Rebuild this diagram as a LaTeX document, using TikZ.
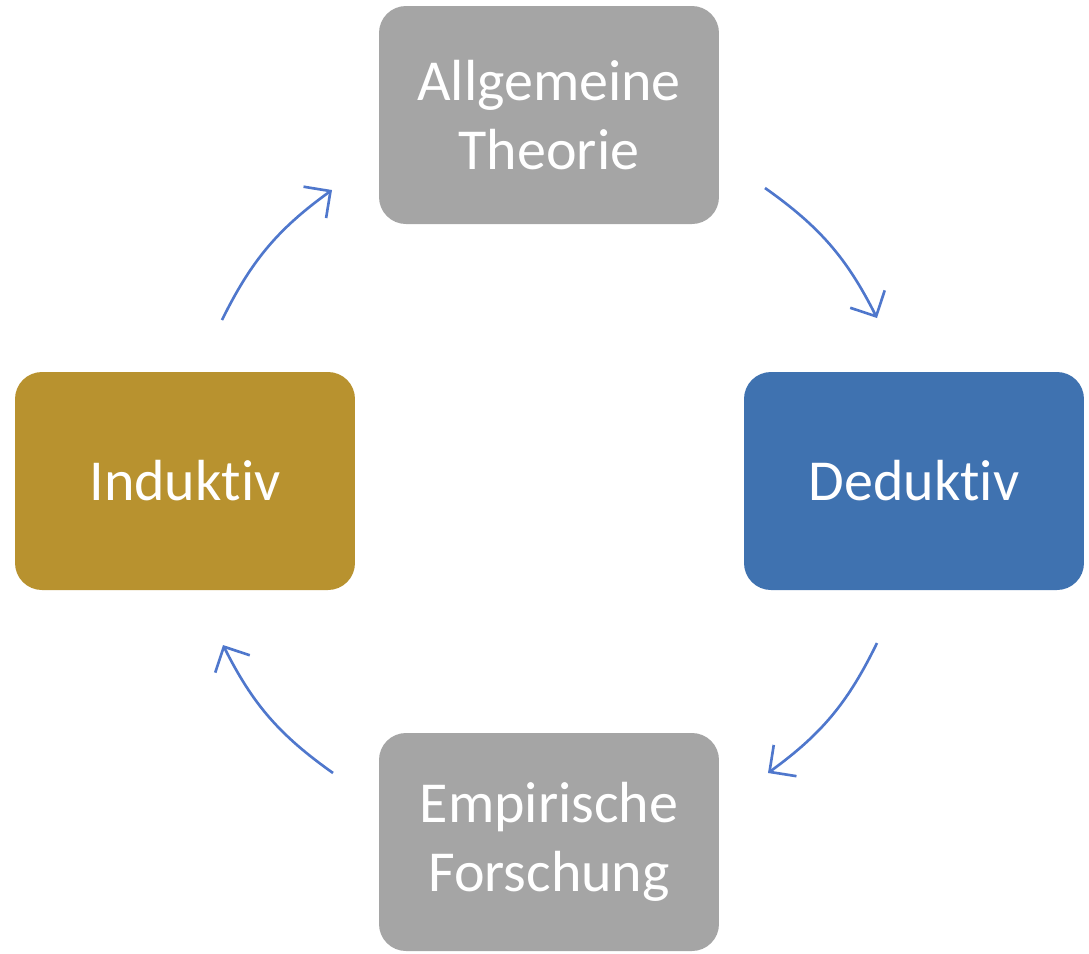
\documentclass[tikz,border=0pt]{standalone}
\usepackage{fontspec}
\setmainfont[Ligatures=NoCommon]{Carlito}
\usetikzlibrary{arrows.meta}
\definecolor{boxgray}{HTML}{A5A5A5}
\definecolor{boxgold}{HTML}{B8922F}
\definecolor{boxblue}{HTML}{3F72B0}
\definecolor{arrowblue}{HTML}{4F77CC}
\begin{document}
\begin{tikzpicture}
  [x=0.1mm,y=-0.1mm,box/.style={rectangle,rounded corners=2.7mm,text=white,align=center,
   minimum width=34mm,minimum height=21.8mm,font=\fontsize{16.5}{19.5}\selectfont}]
  \useasboundingbox (0,0) rectangle (1089,954);
  \node (theorie)[box,fill=boxgray] at (549,115) {Allgemeine\\Theorie};
  \node (deduktiv)[box,fill=boxblue] at (914,481) {Deduktiv};
  \node (forschung)[box,fill=boxgray] at (549,842) {Empirische\\Forschung};
  \node (induktiv)[box,fill=boxgold] at (185,481) {Induktiv};
  \coordinate (a1) at (222,320);
  \coordinate (a2) at (332,190);
  \coordinate (b1) at (765,188);
  \coordinate (b2) at (877,318);
  \coordinate (c1) at (877,643);
  \coordinate (c2) at (768,773);
  \coordinate (d1) at (333,773);
  \coordinate (d2) at (223,645);
 \foreach \from/\to in {a1/a2,b1/b2,c1/c2,d1/d2}
    \draw[arrowblue,line width=0.75pt,-{Straight Barb[length=5.5pt,width=11pt]}] (\from) to[bend left=14] (\to);
\end{tikzpicture}
\end{document}
